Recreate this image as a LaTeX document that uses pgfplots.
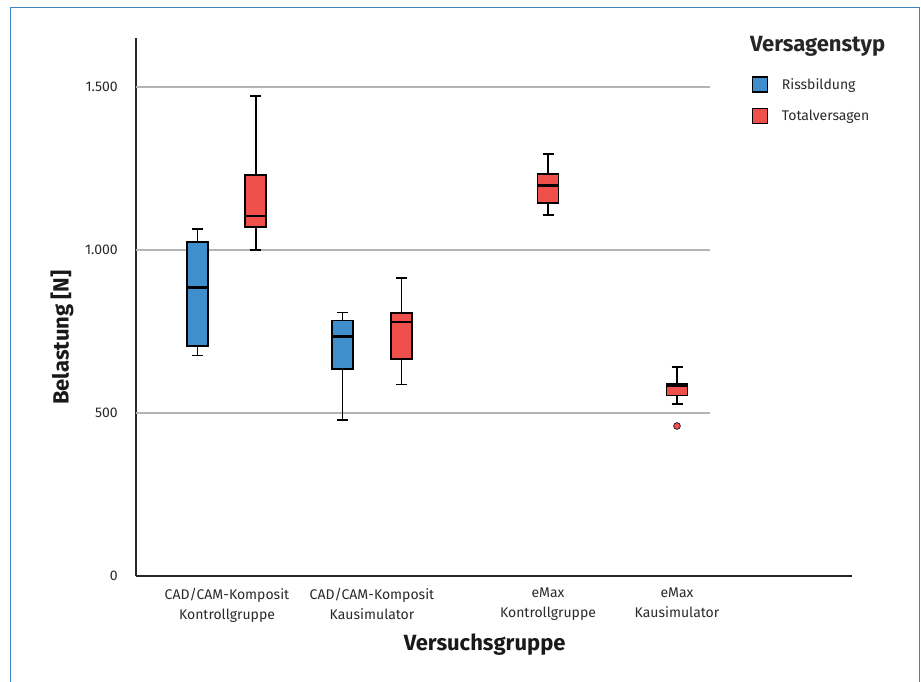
\documentclass[border=0pt]{standalone}
\usepackage{fontspec}
\setmainfont{Fira Sans}
\usepackage{pgfplots}
\pgfplotsset{compat=1.18}
\usepgfplotslibrary{statistics}
\definecolor{cblue}{HTML}{3F8FCD}
\definecolor{cred}{HTML}{F0504C}
\definecolor{frameblue}{HTML}{3D85C6}
\definecolor{gridgray}{HTML}{B4B4B4}
\definecolor{txt}{HTML}{2A2A2A}
\begin{document}
\begin{tikzpicture}[x=1pt,y=1pt]
\path[use as bounding box] (0,0) rectangle (921,682);
\draw[color=frameblue, line width=1.5pt] (10.5,-3) -- (10.5,674.5) -- (919.7,674.5) -- (919.7,-3);
\begin{axis}[
  at={(136pt,106pt)}, anchor=south west,
  scale only axis, width=716pt, height=538pt,
  xmin=136, xmax=852, ymin=0, ymax=1650,
  axis lines=left,
  axis line style={-, line width=1.5pt, color=black!85},
  major tick length=0pt,
  ytick={0,500,1000,1500},
  yticklabels={0,500,1.000,1.500},
  yticklabel style={font=\fontsize{14}{16}\selectfont, color=txt, inner sep=0pt, anchor=east, xshift=-18pt},
  xtick={227,372,548,677},
  xticklabels={{CAD/CAM-Komposit\\Kontrollgruppe},{CAD/CAM-Komposit\\Kausimulator},{eMax\\Kontrollgruppe},{eMax\\Kausimulator}},
  xticklabel style={font=\fontsize{14}{20}\selectfont, color=txt, align=center, inner sep=0pt, anchor=north, yshift=-12pt},
  ylabel={Belastung [N]},
  ylabel style={font=\bfseries\fontsize{22}{24}\selectfont, color=black!90, at={(axis description cs:-0.1034,0.443)}, anchor=center},
  xlabel={Versuchsgruppe},
  xlabel style={font=\bfseries\fontsize{22}{24}\selectfont, color=black!90, at={(axis description cs:0.487,-0.128)}, anchor=center},
  clip=false,
  boxplot/draw direction=y,
  boxplot/box extend=21,
  boxplot/whisker extend=11,
  boxplot/every box/.style={draw=black, line width=1.7pt},
  boxplot/every median/.style={draw=black, line width=2.8pt},
  boxplot/every whisker/.style={draw=black, line width=1.7pt},
  legend style={at={(axis description cs:0.860,0.9295)}, anchor=north west, draw=none, fill=none, inner sep=0pt,
    font=\fontsize{14}{16}\selectfont, text=txt, row sep=15pt,
    nodes={inner sep=0pt, text depth=0pt}},
  legend cell align=left,
  legend image code/.code={\draw[line width=1.4pt, draw=black] (0pt,-7.5pt) rectangle (15pt,7.5pt); \path (29pt,0pt);},
]
% grid lines
\addplot[gridgray, line width=1.5pt, forget plot] coordinates {(136,500) (710,500)};
\addplot[gridgray, line width=1.5pt, forget plot] coordinates {(136,1000) (710,1000)};
\addplot[gridgray, line width=1.5pt, forget plot] coordinates {(136,1500) (710,1500)};
% legend
\addlegendimage{fill=cblue}
\addlegendentry{Rissbildung}
\addlegendimage{fill=cred}
\addlegendentry{Totalversagen}
% CAD/CAM-Komposit Kontrollgruppe
\addplot[fill=cblue, draw=black, line width=1.7pt, forget plot, boxplot prepared={draw position=197.5,
  lower whisker=676, lower quartile=706, median=884, upper quartile=1025, upper whisker=1064}] coordinates {};
\addplot[fill=cred, draw=black, line width=1.7pt, forget plot, boxplot prepared={draw position=255.7,
  lower whisker=1000, lower quartile=1071, median=1104, upper quartile=1230, upper whisker=1473}] coordinates {};
% CAD/CAM-Komposit Kausimulator
\addplot[fill=cblue, draw=black, line width=1.7pt, forget plot, boxplot prepared={draw position=342.5,
  lower whisker=479, lower quartile=635, median=735, upper quartile=784, upper whisker=808}] coordinates {};
\addplot[fill=cred, draw=black, line width=1.7pt, forget plot, boxplot prepared={draw position=401.5,
  lower whisker=587, lower quartile=666, median=779, upper quartile=806, upper whisker=914}] coordinates {};
% eMax Kontrollgruppe
\addplot[fill=cred, draw=black, line width=1.7pt, forget plot, boxplot prepared={draw position=548,
  lower whisker=1107, lower quartile=1145, median=1198, upper quartile=1232, upper whisker=1294}] coordinates {};
% eMax Kausimulator
\addplot[fill=cred, draw=black, line width=1.7pt, forget plot, mark=*, mark size=3.4pt,
  mark options={fill=cred, draw=black, line width=0.6pt},
  boxplot prepared={draw position=677,
  lower whisker=528, lower quartile=554, median=585, upper quartile=589, upper whisker=642}] coordinates {(0,460)};
\end{axis}
\node[anchor=base west, inner sep=0pt, font=\bfseries\fontsize{22}{24}\selectfont, color=black!85] at (750,630) {Versagenstyp};
\end{tikzpicture}
\end{document}
